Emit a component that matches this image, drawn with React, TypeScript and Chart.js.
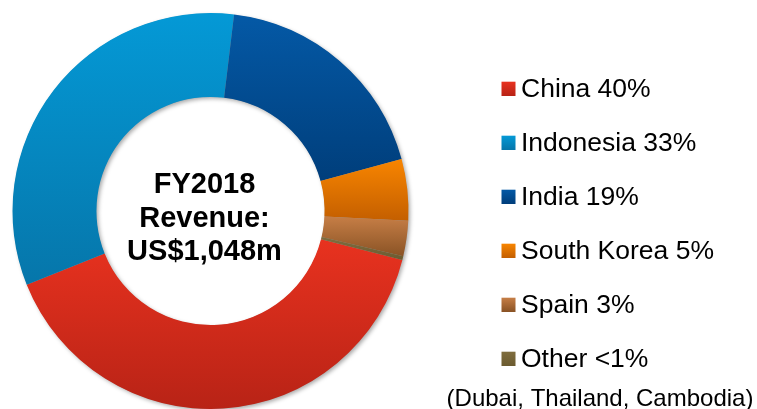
import { useEffect, useRef } from "react";
import { Chart, registerables } from "chart.js";

Chart.register(...registerables);

// ---- data ----
const categories = ["China", "Indonesia", "India", "South Korea", "Spain", "Other"];
const revenueShare = [40, 33, 18.9, 5, 2.9, 0.3];
const legendLabels = ["China 40%", "Indonesia 33%", "India 19%", "South Korea 5%", "Spain 3%", "Other <1%"];
const legendNote = "(Dubai, Thailand, Cambodia)";
const centerLines = ["FY2018", "Revenue:", "US$1,048m"];

// ---- styles ----
const topColors = ["#e8321f", "#0499d6", "#0459a6", "#f88500", "#c67e46", "#7f6d3e"];
const bottomColors = ["#b82316", "#0676aa", "#003e7b", "#c45f00", "#8a5325", "#6c5b30"];
const ROTATION = 104.3;
const CUTOUT = 0.576;
const FONT = "'Liberation Sans', Arial, sans-serif";

function sliceGradient(chart: any, i: number) {
  const area = chart.chartArea;
  if (!area) return topColors[i];
  const cx = (area.left + area.right) / 2;
  const cy = (area.top + area.bottom) / 2;
  const R = Math.min(area.right - area.left, area.bottom - area.top) / 2;
  const r = R * CUTOUT;
  const total = revenueShare.reduce((a, b) => a + b, 0);
  let start = -Math.PI / 2 + (ROTATION * Math.PI) / 180;
  for (let k = 0; k < i; k++) start += (revenueShare[k] / total) * 2 * Math.PI;
  const end = start + (revenueShare[i] / total) * 2 * Math.PI;
  let yMin = Infinity;
  let yMax = -Infinity;
  for (let s = 0; s <= 64; s++) {
    const a = start + ((end - start) * s) / 64;
    for (const rad of [R, r]) {
      const y = cy + rad * Math.sin(a);
      if (y < yMin) yMin = y;
      if (y > yMax) yMax = y;
    }
  }
  if (yMax - yMin < 1) yMax = yMin + 1;
  const g = chart.ctx.createLinearGradient(0, yMin, 0, yMax);
  g.addColorStop(0, topColors[i]);
  g.addColorStop(1, bottomColors[i]);
  return g;
}

const ringShadow = {
  id: "ringShadow",
  beforeDatasetsDraw(chart: any) {
    const meta = chart.getDatasetMeta(0);
    const arc = meta.data[0];
    if (!arc) return;
    const { x, y, outerRadius, innerRadius } = arc.getProps(["x", "y", "outerRadius", "innerRadius"], true);
    const ctx = chart.ctx;
    ctx.save();
    ctx.beginPath();
    ctx.arc(x, y, outerRadius - 0.5, 0, Math.PI * 2);
    ctx.arc(x, y, innerRadius + 0.5, 0, Math.PI * 2, true);
    ctx.closePath();
    ctx.shadowColor = "rgba(0,0,0,0.35)";
    ctx.shadowBlur = 4;
    ctx.shadowOffsetX = 2;
    ctx.shadowOffsetY = 2;
    ctx.fillStyle = "#9a9a9a";
    ctx.fill();
    ctx.restore();
  },
};

const textPlugin = {
  id: "textPlugin",
  afterDraw(chart: any) {
    const ctx = chart.ctx;
    ctx.save();
    // centre label
    ctx.fillStyle = "#000";
    ctx.textAlign = "center";
    ctx.textBaseline = "alphabetic";
    ctx.font = `bold 29px ${FONT}`;
    const cBase = [193.3, 226.7, 260];
    centerLines.forEach((t, i) => ctx.fillText(t, 204.5, cBase[i]));

    // legend
    ctx.textAlign = "left";
    ctx.font = `26.5px ${FONT}`;
    legendLabels.forEach((t, i) => {
      const base = 96.7 + i * 54;
      const g = ctx.createLinearGradient(0, base - 15, 0, base - 1);
      g.addColorStop(0, topColors[i]);
      g.addColorStop(1, bottomColors[i]);
      ctx.fillStyle = g;
      ctx.fillRect(501.5, base - 15, 14, 14.3);
      ctx.fillStyle = "#000";
      ctx.fillText(t, 521, base);
    });
    ctx.font = `24px ${FONT}`;
    ctx.fillText(legendNote, 446.6, 405.7);
    ctx.restore();
  },
};

export default function App() {
  const canvasRef = useRef<HTMLCanvasElement | null>(null);

  useEffect(() => {
    const canvas = canvasRef.current;
    if (!canvas) return;
    const chart = new Chart(canvas, {
      type: "doughnut",
      data: {
        labels: categories,
        datasets: [
          {
            data: revenueShare,
            backgroundColor: (c: any) => sliceGradient(c.chart, c.dataIndex),
            borderWidth: 0,
          },
        ],
      },
      options: {
        responsive: false,
        animation: false,
        devicePixelRatio: 1,
        rotation: ROTATION,
        cutout: `${CUTOUT * 100}%`,
        layout: { padding: { left: 12, right: 348, top: 13, bottom: 0 } },
        plugins: {
          legend: { display: false },
          tooltip: { enabled: false },
        },
        events: [],
      },
      plugins: [ringShadow, textPlugin],
    } as any);
    return () => chart.destroy();
  }, []);

  return (
    <div style={{ position: "absolute", left: 0, top: 0, width: 757, height: 409, background: "#fff" }}>
      <canvas ref={canvasRef} width={757} height={409} style={{ display: "block", width: 757, height: 409 }} />
    </div>
  );
}
